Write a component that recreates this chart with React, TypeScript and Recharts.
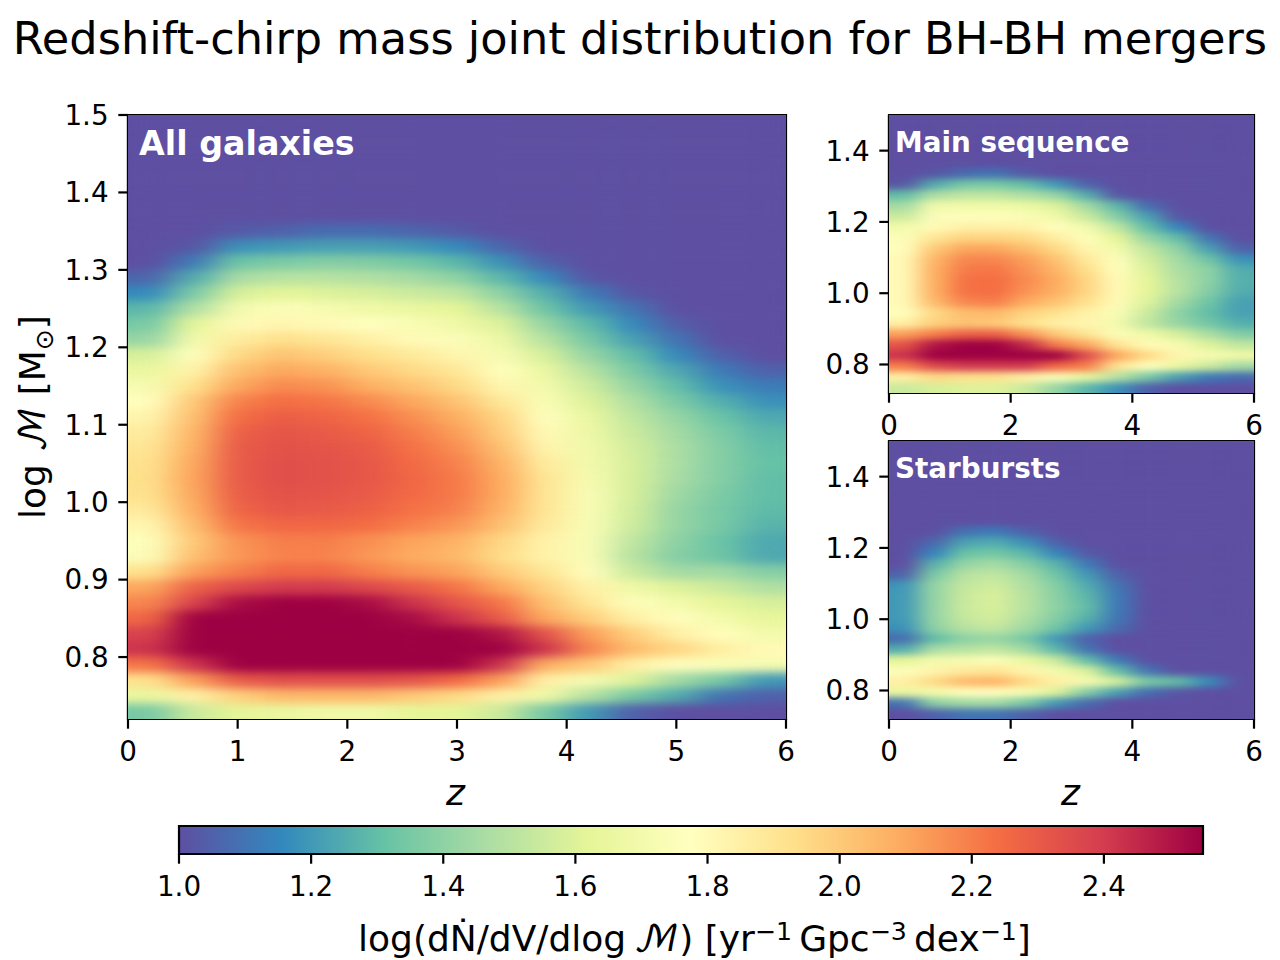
import { BarChart, Bar, ScatterChart, Scatter, XAxis, YAxis, ReferenceArea } from "recharts";

// Spectral_r stops, value range of the colour bar
const SPECTRAL = ["#5e4fa2", "#3288bd", "#66c2a5", "#abdda4", "#e6f598", "#ffffbf", "#fee08b", "#fdae61", "#f46d43", "#d53e4f", "#9e0142"];
const V_MIN = 1.0;
const V_MAX = 2.55;

const Z_TICKS_MAIN = [0, 1, 2, 3, 4, 5, 6];
const Z_TICKS_SMALL = [0, 2, 4, 6];
const M_TICKS_MAIN = [0.8, 0.9, 1.0, 1.1, 1.2, 1.3, 1.4, 1.5];
const M_TICKS_SMALL = [0.8, 1.0, 1.2, 1.4];
const CBAR_TICKS = [1.0, 1.2, 1.4, 1.6, 1.8, 2.0, 2.2, 2.4];

// All galaxies: columns are z, rows are log M from the top of the panel down
const ALL_Z = [0.2, 0.6, 1.0, 1.4, 1.8, 2.2, 2.6, 3.0, 3.4, 3.8, 4.2, 4.6, 5.0, 5.4, 5.8];
const ALL_M = [1.49, 1.47, 1.45, 1.43, 1.41, 1.39, 1.37, 1.35, 1.33, 1.31, 1.29, 1.27, 1.25, 1.23, 1.21, 1.19, 1.17, 1.15, 1.13, 1.11, 1.09, 1.07, 1.05, 1.03, 1.01, 0.99, 0.97, 0.95, 0.93, 0.91, 0.89, 0.87, 0.85, 0.83, 0.81, 0.79, 0.77, 0.75, 0.73];
const ALL_V = [
  [1, 1, 1, 1, 1, 1, 1, 1, 1, 1, 1, 1, 1, 1, 1],
  [1, 1, 1, 1, 1, 1, 1, 1, 1, 1, 1, 1, 1, 1, 1],
  [1, 1, 1, 1, 1, 1, 1, 1, 1, 1, 1, 1, 1, 1, 1],
  [1, 1, 1, 1, 1, 1, 1, 1, 1, 1, 1, 1, 1, 1, 1],
  [1, 1, 1, 1, 1, 1, 1, 1, 1, 1, 1, 1, 1, 1, 1],
  [1, 1, 1, 1, 1, 1, 1, 1, 1, 1, 1, 1, 1, 1, 1],
  [1, 1, 1, 1, 1, 1, 1, 1, 1, 1, 1, 1, 1, 1, 1],
  [1, 1, 1.03, 1.05, 1.08, 1.08, 1.06, 1.03, 1, 1, 1, 1, 1, 1, 1],
  [1, 1.02, 1.18, 1.2, 1.22, 1.22, 1.2, 1.16, 1.06, 1, 1, 1, 1, 1, 1],
  [1, 1.12, 1.33, 1.36, 1.38, 1.37, 1.34, 1.28, 1.18, 1.05, 1, 1, 1, 1, 1],
  [1.06, 1.25, 1.46, 1.5, 1.5, 1.48, 1.45, 1.4, 1.28, 1.16, 1.02, 1, 1, 1, 1],
  [1.16, 1.36, 1.58, 1.62, 1.6, 1.58, 1.55, 1.52, 1.4, 1.26, 1.12, 1.02, 1, 1, 1],
  [1.28, 1.48, 1.7, 1.75, 1.72, 1.68, 1.65, 1.62, 1.5, 1.33, 1.2, 1.1, 1, 1, 1],
  [1.35, 1.62, 1.8, 1.82, 1.8, 1.77, 1.73, 1.68, 1.6, 1.42, 1.29, 1.16, 1.04, 1, 1],
  [1.42, 1.7, 1.87, 1.93, 1.9, 1.85, 1.8, 1.75, 1.67, 1.5, 1.35, 1.22, 1.1, 1, 1],
  [1.58, 1.77, 1.95, 2.02, 1.98, 1.93, 1.88, 1.82, 1.72, 1.58, 1.42, 1.3, 1.16, 1.05, 1],
  [1.65, 1.84, 2.03, 2.1, 2.07, 2.0, 1.95, 1.89, 1.77, 1.65, 1.5, 1.36, 1.24, 1.12, 1.05],
  [1.72, 1.92, 2.1, 2.17, 2.15, 2.08, 2.02, 1.95, 1.82, 1.7, 1.56, 1.42, 1.3, 1.18, 1.12],
  [1.78, 2.0, 2.19, 2.24, 2.22, 2.17, 2.1, 2.02, 1.89, 1.74, 1.6, 1.48, 1.36, 1.26, 1.18],
  [1.83, 2.03, 2.24, 2.29, 2.27, 2.23, 2.16, 2.08, 1.96, 1.77, 1.65, 1.52, 1.42, 1.32, 1.24],
  [1.87, 2.06, 2.28, 2.32, 2.3, 2.27, 2.2, 2.12, 1.99, 1.8, 1.67, 1.55, 1.45, 1.36, 1.28],
  [1.9, 2.08, 2.3, 2.33, 2.32, 2.3, 2.23, 2.16, 2.03, 1.83, 1.69, 1.57, 1.47, 1.38, 1.3],
  [1.92, 2.1, 2.3, 2.34, 2.33, 2.31, 2.25, 2.19, 2.07, 1.87, 1.7, 1.58, 1.47, 1.38, 1.31],
  [1.93, 2.11, 2.3, 2.34, 2.33, 2.31, 2.26, 2.21, 2.09, 1.9, 1.72, 1.58, 1.46, 1.38, 1.3],
  [1.92, 2.1, 2.29, 2.33, 2.32, 2.3, 2.25, 2.21, 2.09, 1.9, 1.74, 1.58, 1.44, 1.36, 1.3],
  [1.88, 2.08, 2.27, 2.31, 2.3, 2.28, 2.23, 2.19, 2.07, 1.9, 1.74, 1.57, 1.42, 1.35, 1.29],
  [1.82, 2.04, 2.22, 2.26, 2.26, 2.24, 2.19, 2.14, 2.03, 1.88, 1.74, 1.56, 1.42, 1.35, 1.27],
  [1.76, 2.0, 2.15, 2.2, 2.2, 2.16, 2.11, 2.07, 1.96, 1.84, 1.74, 1.52, 1.4, 1.32, 1.24],
  [1.75, 2.03, 2.14, 2.19, 2.19, 2.14, 2.09, 2.05, 1.94, 1.84, 1.74, 1.5, 1.38, 1.33, 1.24],
  [1.92, 2.12, 2.2, 2.26, 2.26, 2.2, 2.15, 2.11, 2.0, 1.9, 1.78, 1.55, 1.45, 1.45, 1.38],
  [2.1, 2.28, 2.36, 2.4, 2.4, 2.36, 2.3, 2.22, 2.1, 1.97, 1.84, 1.68, 1.6, 1.55, 1.48],
  [2.18, 2.38, 2.52, 2.56, 2.56, 2.52, 2.42, 2.32, 2.22, 2.03, 1.9, 1.76, 1.7, 1.62, 1.58],
  [2.26, 2.6, 2.65, 2.7, 2.7, 2.65, 2.52, 2.42, 2.3, 2.1, 1.98, 1.85, 1.78, 1.7, 1.63],
  [2.38, 2.7, 2.75, 2.8, 2.8, 2.75, 2.68, 2.6, 2.5, 2.33, 2.12, 1.98, 1.85, 1.78, 1.7],
  [2.42, 2.7, 2.75, 2.8, 2.8, 2.75, 2.68, 2.62, 2.56, 2.42, 2.18, 2.04, 1.96, 1.86, 1.8],
  [2.22, 2.42, 2.56, 2.6, 2.6, 2.6, 2.58, 2.55, 2.42, 2.08, 2.0, 1.85, 1.78, 1.74, 1.72],
  [1.92, 2.12, 2.3, 2.34, 2.34, 2.34, 2.32, 2.25, 2.12, 1.85, 1.72, 1.6, 1.45, 1.35, 1.2],
  [1.65, 1.85, 1.98, 2.05, 2.05, 2.05, 2.0, 1.95, 1.85, 1.68, 1.5, 1.35, 1.25, 1.1, 1.05],
  [1.35, 1.55, 1.62, 1.65, 1.68, 1.68, 1.62, 1.62, 1.55, 1.35, 1.2, 1.05, 1, 1, 1],
];

// The two small panels share one coarser grid
const SMALL_Z = [0.25, 0.75, 1.25, 1.75, 2.25, 2.75, 3.25, 3.75, 4.25, 4.75, 5.25, 5.75];
const SMALL_M = [1.485, 1.455, 1.425, 1.395, 1.365, 1.335, 1.305, 1.275, 1.245, 1.215, 1.185, 1.155, 1.125, 1.095, 1.065, 1.035, 1.005, 0.975, 0.945, 0.915, 0.885, 0.855, 0.825, 0.795, 0.765, 0.735];
const MS_V = [
  [1, 1, 1, 1, 1, 1, 1, 1, 1, 1, 1, 1],
  [1, 1, 1, 1, 1, 1, 1, 1, 1, 1, 1, 1],
  [1, 1, 1, 1, 1, 1, 1, 1, 1, 1, 1, 1],
  [1, 1, 1, 1, 1, 1, 1, 1, 1, 1, 1, 1],
  [1, 1, 1, 1, 1, 1, 1, 1, 1, 1, 1, 1],
  [1, 1.02, 1.08, 1.1, 1.03, 1, 1, 1, 1, 1, 1, 1],
  [1.02, 1.25, 1.35, 1.35, 1.3, 1.2, 1.05, 1, 1, 1, 1, 1],
  [1.3, 1.48, 1.52, 1.52, 1.48, 1.42, 1.26, 1.02, 1, 1, 1, 1],
  [1.45, 1.7, 1.68, 1.68, 1.66, 1.6, 1.45, 1.28, 1.08, 1, 1, 1],
  [1.55, 1.75, 1.76, 1.76, 1.74, 1.68, 1.55, 1.38, 1.22, 1.02, 1, 1],
  [1.7, 1.8, 1.85, 1.85, 1.84, 1.78, 1.7, 1.52, 1.3, 1.15, 1, 1],
  [1.75, 1.9, 1.97, 1.97, 1.95, 1.86, 1.76, 1.62, 1.42, 1.3, 1.1, 1],
  [1.78, 2.0, 2.1, 2.1, 2.04, 1.95, 1.82, 1.7, 1.52, 1.4, 1.22, 1.05],
  [1.8, 2.06, 2.18, 2.18, 2.12, 2.02, 1.88, 1.76, 1.57, 1.45, 1.33, 1.18],
  [1.8, 2.08, 2.21, 2.22, 2.15, 2.06, 1.93, 1.78, 1.6, 1.47, 1.4, 1.25],
  [1.8, 2.08, 2.23, 2.24, 2.17, 2.09, 1.96, 1.8, 1.62, 1.49, 1.4, 1.26],
  [1.8, 2.08, 2.23, 2.24, 2.15, 2.08, 1.96, 1.8, 1.62, 1.5, 1.38, 1.25],
  [1.8, 2.05, 2.18, 2.2, 2.09, 2.02, 1.92, 1.8, 1.6, 1.45, 1.33, 1.22],
  [1.78, 1.95, 2.04, 2.05, 1.97, 1.92, 1.84, 1.74, 1.55, 1.4, 1.3, 1.22],
  [1.85, 1.98, 2.02, 2.0, 1.92, 1.85, 1.82, 1.7, 1.52, 1.42, 1.34, 1.26],
  [2.12, 2.2, 2.28, 2.28, 2.15, 2.0, 1.9, 1.75, 1.68, 1.58, 1.47, 1.37],
  [2.32, 2.5, 2.55, 2.55, 2.45, 2.2, 2.1, 1.9, 1.8, 1.72, 1.6, 1.52],
  [2.42, 2.7, 2.75, 2.75, 2.7, 2.55, 2.35, 2.1, 1.95, 1.82, 1.72, 1.68],
  [2.2, 2.35, 2.4, 2.4, 2.4, 2.25, 2.2, 1.9, 1.78, 1.65, 1.55, 1.45],
  [1.85, 1.95, 1.92, 1.92, 1.85, 1.75, 1.65, 1.5, 1.35, 1.22, 1.12, 1.08],
  [1.55, 1.58, 1.6, 1.6, 1.55, 1.42, 1.28, 1.18, 1.05, 1, 1, 1],
];
const SB_V = [
  [1, 1, 1, 1, 1, 1, 1, 1, 1, 1, 1, 1],
  [1, 1, 1, 1, 1, 1, 1, 1, 1, 1, 1, 1],
  [1, 1, 1, 1, 1, 1, 1, 1, 1, 1, 1, 1],
  [1, 1, 1, 1, 1, 1, 1, 1, 1, 1, 1, 1],
  [1, 1, 1, 1, 1, 1, 1, 1, 1, 1, 1, 1],
  [1, 1, 1, 1, 1, 1, 1, 1, 1, 1, 1, 1],
  [1, 1, 1, 1, 1, 1, 1, 1, 1, 1, 1, 1],
  [1, 1, 1, 1, 1, 1, 1, 1, 1, 1, 1, 1],
  [1, 1, 1.1, 1.12, 1.05, 1, 1, 1, 1, 1, 1, 1],
  [1, 1.07, 1.23, 1.25, 1.18, 1.05, 1, 1, 1, 1, 1, 1],
  [1, 1.15, 1.32, 1.34, 1.28, 1.15, 1.03, 1, 1, 1, 1, 1],
  [1, 1.27, 1.42, 1.45, 1.38, 1.27, 1.12, 1, 1, 1, 1, 1],
  [1.05, 1.36, 1.5, 1.52, 1.45, 1.33, 1.2, 1.05, 1, 1, 1, 1],
  [1.19, 1.42, 1.53, 1.56, 1.48, 1.38, 1.25, 1.1, 1, 1, 1, 1],
  [1.2, 1.42, 1.55, 1.58, 1.5, 1.39, 1.28, 1.12, 1, 1, 1, 1],
  [1.2, 1.42, 1.55, 1.58, 1.5, 1.4, 1.3, 1.12, 1, 1, 1, 1],
  [1.2, 1.42, 1.54, 1.57, 1.48, 1.38, 1.27, 1.11, 1, 1, 1, 1],
  [1.18, 1.4, 1.5, 1.53, 1.44, 1.33, 1.2, 1.08, 1, 1, 1, 1],
  [1.08, 1.3, 1.4, 1.42, 1.35, 1.2, 1.05, 1, 1, 1, 1, 1],
  [1.25, 1.47, 1.5, 1.52, 1.45, 1.28, 1.1, 1, 1, 1, 1, 1],
  [1.62, 1.7, 1.72, 1.75, 1.65, 1.55, 1.3, 1.12, 1, 1, 1, 1],
  [1.75, 1.83, 1.88, 1.9, 1.83, 1.7, 1.6, 1.3, 1.1, 1, 1, 1],
  [1.85, 1.95, 2.05, 2.07, 1.95, 1.85, 1.72, 1.58, 1.35, 1.3, 1.17, 1],
  [1.65, 1.7, 1.78, 1.78, 1.72, 1.6, 1.38, 1.22, 1.08, 1.02, 1, 1],
  [1.1, 1.4, 1.45, 1.45, 1.35, 1.2, 1.08, 1, 1, 1, 1, 1],
  [1, 1.05, 1.1, 1.1, 1.05, 1, 1, 1, 1, 1, 1, 1],
];
const CBAR_DATA = [{ name: "cbar", v: V_MAX }];

const FONT = "'DejaVu Sans', sans-serif";
const MATH_FONT = "'DejaVu Math TeX Gyre', 'DejaVu Sans', sans-serif";
const TICK = { fill: "#000", fontSize: 27.8, fontFamily: FONT };
const AXIS_LINE = { stroke: "#000", strokeWidth: 2.2 };
const TICK_LINE = { stroke: "#000", strokeWidth: 2.2 };
const TICK_LEN = 9.7;
const TICK_PAD = 9.7;

function hexToRgb(hex: string) {
  return [1, 3, 5].map((i) => parseInt(hex.slice(i, i + 2), 16));
}

function valueColor(v: number) {
  const t = Math.min(1, Math.max(0, (v - V_MIN) / (V_MAX - V_MIN))) * (SPECTRAL.length - 1);
  const i = Math.min(SPECTRAL.length - 2, Math.floor(t));
  const a = hexToRgb(SPECTRAL[i]);
  const b = hexToRgb(SPECTRAL[i + 1]);
  const c = a.map((x, k) => Math.round(x + (b[k] - x) * (t - i)));
  return `rgb(${c[0]},${c[1]},${c[2]})`;
}

interface HeatPanelProps {
  id: string;
  left: number;
  top: number;
  width: number;
  height: number;
  zs: number[];
  ms: number[];
  values: number[][];
  zTicks: number[];
  mTicks: number[];
  title: string;
  titleSize: number;
  titleX: number;
  titleY: number;
}

function HeatPanel({ id, left, top, width, height, zs, ms, values, zTicks, mTicks, title, titleSize, titleX, titleY }: HeatPanelProps) {
  const cells = ms.flatMap((m, r) => zs.map((z, c) => ({ z, m, v: values[r][c] })));
  const cellW = width / zs.length;
  const cellH = height / ms.length;
  return (
    <div className={id} style={{ position: "absolute", left: left - 70, top: top - 30 }}>
      <ScatterChart width={width + 100} height={height + 130} margin={{ top: 30, right: 30, bottom: 0, left: 0 }}>
        <XAxis
          type="number"
          dataKey="z"
          domain={[0, 6]}
          ticks={zTicks}
          interval={0}
          height={100}
          tick={TICK}
          tickSize={TICK_LEN}
          tickMargin={TICK_PAD + 3}
          axisLine={AXIS_LINE}
          tickLine={TICK_LINE}
        />
        <YAxis
          type="number"
          dataKey="m"
          domain={[0.72, 1.5]}
          ticks={mTicks}
          interval={0}
          width={70}
          tick={TICK}
          tickSize={TICK_LEN}
          tickMargin={TICK_PAD}
          axisLine={AXIS_LINE}
          tickLine={TICK_LINE}
          tickFormatter={(v: number) => v.toFixed(1)}
        />
        <Scatter
          data={cells}
          isAnimationActive={false}
          shape={(p: any) => (
            <rect x={p.cx - cellW / 2} y={p.cy - cellH / 2} width={cellW} height={cellH} fill={valueColor(p.payload.v)} />
          )}
        />
        <ReferenceArea x1={0} x2={6} y1={0.72} y2={1.5} fill="none" stroke="#000" strokeWidth={2.2} fillOpacity={0} />
      </ScatterChart>
      <div style={{ position: "absolute", left: 70 + titleX, top: titleY, color: "#fff", fontFamily: FONT, fontWeight: 700, fontSize: titleSize, whiteSpace: "nowrap", lineHeight: 1 }}>
        {title}
      </div>
    </div>
  );
}

const labelStyle = { position: "absolute", fontFamily: FONT, color: "#000", whiteSpace: "nowrap", lineHeight: 1 } as const;
const sup = { fontSize: "0.7em", verticalAlign: "0.45em", lineHeight: 0 };
const mathM = { fontFamily: MATH_FONT };

export default function App() {
  return (
    <div style={{ position: "absolute", left: 0, top: 0, width: 1280, height: 960, background: "#fff", overflow: "hidden" }}>
      <style>{`
        .main-panel .recharts-scatter { filter: url(#blur-main); }
        .small-panel .recharts-scatter { filter: url(#blur-small); }
      `}</style>
      <svg width={0} height={0} style={{ position: "absolute" }}>
        <defs>
          <filter id="blur-main" x="0" y="0" width="1" height="1" colorInterpolationFilters="sRGB">
            <feGaussianBlur stdDeviation="16 5" />
            <feComponentTransfer>
              <feFuncA type="linear" slope="1000" />
            </feComponentTransfer>
          </filter>
          <filter id="blur-small" x="0" y="0" width="1" height="1" colorInterpolationFilters="sRGB">
            <feGaussianBlur stdDeviation="11 3.5" />
            <feComponentTransfer>
              <feFuncA type="linear" slope="1000" />
            </feComponentTransfer>
          </filter>
          <linearGradient id="spectral-cbar" x1="0" y1="0" x2="1" y2="0">
            {SPECTRAL.map((c, i) => (
              <stop key={c} offset={i / (SPECTRAL.length - 1)} stopColor={c} />
            ))}
          </linearGradient>
        </defs>
      </svg>

      <div style={{ ...labelStyle, left: 0, width: 1280, top: 17, textAlign: "center", fontSize: 44.65 }}>
        Redshift-chirp mass joint distribution for BH-BH mergers
      </div>

      <HeatPanel id="main-panel" left={128} top={115} width={658} height={604} zs={ALL_Z} ms={ALL_M} values={ALL_V} zTicks={Z_TICKS_MAIN} mTicks={M_TICKS_MAIN} title="All galaxies" titleSize={33.3} titleX={11} titleY={42} />
      <HeatPanel id="small-panel" left={889} top={115} width={365} height={278} zs={SMALL_Z} ms={SMALL_M} values={MS_V} zTicks={Z_TICKS_SMALL} mTicks={M_TICKS_SMALL} title="Main sequence" titleSize={27.8} titleX={6} titleY={44} />
      <HeatPanel id="small-panel" left={889} top={441} width={365} height={278} zs={SMALL_Z} ms={SMALL_M} values={SB_V} zTicks={Z_TICKS_SMALL} mTicks={M_TICKS_SMALL} title="Starbursts" titleSize={27.8} titleX={6} titleY={44} />

      <div style={{ ...labelStyle, left: 446, top: 775, fontSize: 36, fontStyle: "italic" }}>z</div>
      <div style={{ ...labelStyle, left: 1061, top: 775, fontSize: 36, fontStyle: "italic" }}>z</div>
      <div style={{ ...labelStyle, left: 33, top: 417, fontSize: 36, transform: "translate(-50%,-50%) rotate(-90deg)" }}>
        log <span style={mathM}>ℳ</span> [M<sub style={{ fontSize: "0.7em", lineHeight: 0 }}>⊙</sub>]
      </div>

      <div style={{ position: "absolute", left: 139, top: 816 }}>
        <BarChart layout="vertical" width={1094} height={100} data={CBAR_DATA} barCategoryGap={0} margin={{ top: 10, right: 30, bottom: 0, left: 40 }}>
          <XAxis
            type="number"
            domain={[V_MIN, V_MAX]}
            ticks={CBAR_TICKS}
            interval={0}
            height={62}
            tick={TICK}
            tickSize={TICK_LEN}
            tickMargin={TICK_PAD + 3}
            axisLine={AXIS_LINE}
            tickLine={TICK_LINE}
            tickFormatter={(v: number) => v.toFixed(1)}
          />
          <YAxis type="category" dataKey="name" hide />
          <Bar dataKey="v" fill="url(#spectral-cbar)" stroke="#000" strokeWidth={2.2} isAnimationActive={false} />
        </BarChart>
      </div>
      <div style={{ ...labelStyle, left: 358, top: 921, fontSize: 36 }}>
        log(dṄ/dV/dlog{"\u2009"}<span style={mathM}>ℳ</span>) [yr<span style={sup}>−1</span>{"\u2009"}Gpc<span style={sup}>−3</span>{"\u2009"}dex<span style={sup}>−1</span>]
      </div>
    </div>
  );
}
